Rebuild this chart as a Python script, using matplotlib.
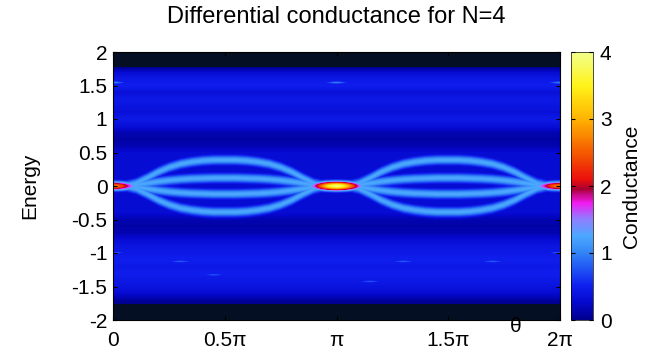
import numpy as np
import matplotlib
matplotlib.use('Agg')
import matplotlib.pyplot as plt
from matplotlib.colors import LinearSegmentedColormap

plt.rcParams['font.family'] = ['Liberation Sans', 'DejaVu Sans']

# branch energies over one period (theta/pi from 0 to 1)
theta_pts = [0.0, 0.05, 0.1, 0.15, 0.2, 0.25, 0.3, 0.35, 0.4, 0.45, 0.5,
             0.55, 0.6, 0.65, 0.7, 0.75, 0.8, 0.85, 0.9, 0.95, 1.0]
outer_E = [0.0, 0.0, 0.04, 0.12, 0.21, 0.28, 0.33, 0.36, 0.38, 0.39, 0.39,
           0.39, 0.38, 0.36, 0.33, 0.28, 0.21, 0.12, 0.04, 0.0, 0.0]
inner_E = [0.0, 0.0, 0.015, 0.04, 0.065, 0.085, 0.10, 0.11, 0.115, 0.12, 0.12,
           0.12, 0.115, 0.11, 0.10, 0.085, 0.065, 0.04, 0.015, 0.0, 0.0]
line_level = 1.25
line_width = 0.057

# zero-energy peaks at theta = 0, pi, 2pi
spot_theta = [0.0, 1.0, 2.0]
spot_peak = [2.7, 3.9, 2.7]
spot_dtheta = [0.0, 0.02, 0.04, 0.06, 0.08, 0.10, 0.12]
spot_shape = [1.0, 0.96, 0.86, 0.72, 0.58, 0.42, 0.3]
spot_width = 0.05

# background conductance per energy row
bg_E = [2.0, 1.9, 1.8, 1.7, 1.6, 1.5, 1.4, 1.3, 1.2, 1.1, 1.0, 0.9, 0.8, 0.7,
        0.6, 0.5, 0.4, 0.3, 0.2, 0.1, 0.0, -0.1, -0.2, -0.3, -0.4, -0.5, -0.6,
        -0.7, -0.8, -0.9, -1.0, -1.1, -1.2, -1.3, -1.4, -1.5, -1.6, -1.7, -1.8,
        -1.9, -2.0]
bg_level = [-0.1, -0.1, -0.05, 0.3, 0.45, 0.5, 0.35, 0.45, 0.4, 0.35, 0.45,
            0.35, 0.15, 0.1, 0.15, 0.3, 0.3, 0.3, 0.3, 0.3, 0.3, 0.3, 0.3, 0.3,
            0.3, 0.15, 0.1, 0.15, 0.3, 0.4, 0.45, 0.5, 0.45, 0.5, 0.45, 0.4,
            0.3, 0.1, -0.05, -0.1, -0.1]

# small brighter streaks in the background (theta/pi, E, value)
blip_theta = [0.0, 1.0, 2.0, 0.3, 1.3, 1.7, 0.45, 1.15, 0.0, 2.0]
blip_E = [1.55, 1.55, 1.55, -1.13, -1.13, -1.13, -1.33, -1.43, -1.0, -1.0]
blip_val = [1.0, 0.95, 0.95, 0.8, 0.8, 0.8, 0.75, 0.75, 0.8, 0.8]

# grid
th = np.linspace(0, 2, 447)
E = np.linspace(-2, 2, 268)
TH, EE = np.meshgrid(th, E)

bg = np.interp(-E, [-v for v in bg_E], bg_level)[:, None] * np.ones_like(TH)
F = np.zeros_like(TH)
for bt, be, bv in zip(blip_theta, blip_E, blip_val):
    F = np.maximum(F, bv * np.exp(-((TH - bt) / 0.06) ** 2 - ((EE - be) / 0.025) ** 2))

tm = np.mod(th, 1.0)
for branch in (outer_E, inner_E):
    e = np.interp(tm, theta_pts, branch)
    for sgn in (1, -1):
        F = np.maximum(F, line_level * np.exp(-0.5 * ((EE - sgn * e[None, :]) / line_width) ** 2))

for st, sp in zip(spot_theta, spot_peak):
    prof = sp * np.interp(np.abs(th - st), spot_dtheta, spot_shape, right=0.0)
    F = np.maximum(F, prof[None, :] * np.exp(-0.5 * (EE / spot_width) ** 2))

Z = np.where(F > 0.05, np.maximum(F, bg), bg)

cmap = LinearSegmentedColormap.from_list('cond', [
    (0.0 / 4, (0.0, 0.0, 0.55)),
    (0.25 / 4, (0.02, 0.03, 0.8)),
    (0.5 / 4, (0.06, 0.12, 0.93)),
    (0.75 / 4, (0.12, 0.32, 0.96)),
    (1.0 / 4, (0.2, 0.52, 0.96)),
    (1.25 / 4, (0.3, 0.66, 1.0)),
    (1.5 / 4, (0.55, 0.5, 1.0)),
    (1.75 / 4, (0.95, 0.1, 0.95)),
    (1.95 / 4, (0.65, 0.0, 0.2)),
    (2.1 / 4, (0.92, 0.06, 0.05)),
    (2.5 / 4, (0.96, 0.35, 0.0)),
    (3.0 / 4, (1.0, 0.7, 0.0)),
    (3.5 / 4, (1.0, 0.95, 0.1)),
    (4.0 / 4, (0.95, 1.0, 0.55)),
]).with_extremes(under=(0.02, 0.06, 0.14))

fig = plt.figure(figsize=(6.52, 3.58), dpi=100)
ax = fig.add_axes([113 / 652, 38 / 358, 447 / 652, 268 / 358])
im = ax.imshow(Z, extent=[0, 2 * np.pi, -2, 2], origin='lower', aspect='auto',
               cmap=cmap, vmin=0, vmax=4, interpolation='nearest',
               interpolation_stage='rgba')
ax.set_xlim(0, 2 * np.pi)
ax.set_ylim(-2, 2)
ax.set_xticks(np.array([0, 0.5, 1, 1.5, 2]) * np.pi)
ax.set_xticklabels(['0', '0.5π', 'π', '1.5π', '2π'])
ax.set_yticks(np.arange(-2, 2.01, 0.5))
ax.set_yticklabels(['-2', '-1.5', '-1', '-0.5', '0', '0.5', '1', '1.5', '2'])
ax.tick_params(direction='in', length=3, labelsize=15, top=True, right=True,
               pad=4, color='k')
ax.tick_params(axis='x', pad=8)

cax = fig.add_axes([571 / 652, 38 / 358, 22 / 652, 268 / 358])
cb = fig.colorbar(im, cax=cax, ticks=[0, 1, 2, 3, 4])
cb.outline.set_linewidth(0.5)
cax.tick_params(direction='in', length=3, labelsize=15, left=True, right=True, pad=5)

fig.text(336 / 652, 1 - 17 / 358, 'Differential conductance for N=4',
         ha='center', va='center', fontsize=17)
fig.text(30 / 652, 1 - 186 / 358, 'Energy', rotation=90, ha='center', va='center',
         fontsize=15)
fig.text(632 / 652, 1 - 186 / 358, 'Conductance', rotation=90, ha='center',
         va='center', fontsize=15)
fig.text(516 / 652, 1 - 326 / 358, 'θ', ha='center', va='center', fontsize=15)

fig.savefig('out.png', dpi=100)
